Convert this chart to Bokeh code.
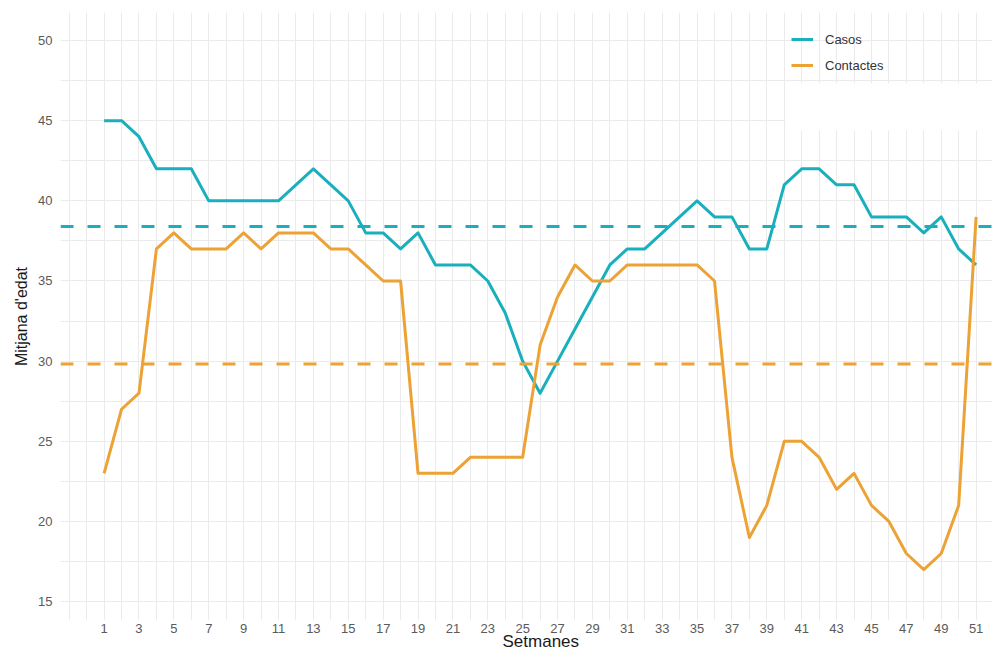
from bokeh.plotting import figure
from bokeh.models import Range1d, FixedTicker, Legend, LegendItem, Span, BoxAnnotation, Title
from bokeh.embed import file_html
from bokeh.resources import INLINE
import numpy as np

# ---- data ----
setmanes = list(range(1, 52))
casos = [45, 45, 44, 42, 42, 42, 40, 40, 40, 40, 40, 41, 42, 41, 40, 38, 38, 37, 38, 36,
         36, 36, 35, 33, 30, 28, 30, 32, 34, 36, 37, 37, 38, 39, 40, 39, 39, 37, 37, 41,
         42, 42, 41, 41, 39, 39, 39, 38, 39, 37, 36]
contactes = [23, 27, 28, 37, 38, 37, 37, 37, 38, 37, 38, 38, 38, 37, 37, 36, 35, 35, 23, 23,
             23, 24, 24, 24, 24, 31, 34, 36, 35, 35, 36, 36, 36, 36, 36, 35, 24, 19, 21, 25,
             25, 24, 22, 23, 21, 20, 18, 17, 18, 21, 39]
tick_setmanes = list(range(1, 52, 2))
minor_setmanes = [-1] + list(range(0, 54, 2))
tick_edat = [15, 20, 25, 30, 35, 40, 45, 50]
minor_edat = [12.5, 17.5, 22.5, 27.5, 32.5, 37.5, 42.5, 47.5, 52.5]
series_names = ["Casos", "Contactes"]
x_title = "Setmanes"
y_title = "Mitjana d'edat"

mitjana_casos = float(np.mean(casos))
mitjana_contactes = float(np.mean(contactes))

TEAL = "#19AFBD"
ORANGE = "#ECA235"
FONT = "Liberation Sans"
GRID = "#EBEBEB"

p = figure(width=992, height=650, output_backend="svg", toolbar_location=None,
           x_range=Range1d(-1.5, 51.94), y_range=Range1d(13.82, 51.75),
           min_border_left=60, min_border_right=0, min_border_top=12, min_border_bottom=30)
p.outline_line_color = None
p.background_fill_color = "white"
p.border_fill_color = "white"

# axes
for ax in (p.xaxis[0], p.yaxis[0]):
    ax.axis_line_color = None
    ax.major_tick_line_color = None
    ax.minor_tick_line_color = None
    ax.major_tick_out = 0
    ax.major_tick_in = 0
    ax.minor_tick_out = 0
    ax.minor_tick_in = 0
    ax.major_label_text_font = FONT
    ax.major_label_text_font_size = "13px"
    ax.major_label_text_color = "#5A5A5A"
    ax.axis_label_text_font = FONT
    ax.axis_label_text_font_size = "16px"
    ax.axis_label_text_font_style = "normal"
    ax.axis_label_text_color = "#1A1A1A"

p.xaxis.ticker = FixedTicker(ticks=tick_setmanes, minor_ticks=minor_setmanes)
p.yaxis.ticker = FixedTicker(ticks=tick_edat, minor_ticks=minor_edat)
p.yaxis.axis_label = y_title
p.xaxis.major_label_standoff = 3
p.yaxis.major_label_standoff = 8
p.yaxis.axis_label_standoff = 5

p.xgrid.ticker = FixedTicker(ticks=tick_setmanes, minor_ticks=minor_setmanes)
p.ygrid.ticker = FixedTicker(ticks=tick_edat, minor_ticks=minor_edat)
for g in (p.xgrid[0], p.ygrid[0]):
    g.grid_line_color = GRID
    g.grid_line_width = 1
    g.minor_grid_line_color = GRID
    g.minor_grid_line_width = 1

# white patch seen in the reference under the legend
p.add_layout(BoxAnnotation(left=40.07, right=60, top=47.32, bottom=44.39,
                           fill_color="white", fill_alpha=1, line_alpha=0, level="underlay"))

# mean lines
p.add_layout(Span(location=mitjana_casos, dimension="width", line_color=TEAL,
                  line_width=3, line_dash="13 14"))
p.add_layout(Span(location=mitjana_contactes, dimension="width", line_color=ORANGE,
                  line_width=3, line_dash="13 14"))

r1 = p.line(setmanes, casos, line_color=TEAL, line_width=3, line_join="round")
r2 = p.line(setmanes, contactes, line_color=ORANGE, line_width=3, line_join="round")

legend = Legend(items=[LegendItem(label=series_names[0], renderers=[r1]),
                       LegendItem(label=series_names[1], renderers=[r2])],
                location=(731, 545), padding=0, spacing=6, margin=0,
                glyph_width=22, glyph_height=20, label_height=20, label_standoff=12,
                background_fill_alpha=0, border_line_alpha=0,
                label_text_font=FONT, label_text_font_size="13px",
                label_text_color="#333333")
p.add_layout(legend, "center")

# x axis title, centred on the (uncropped) panel of the reference
p.add_layout(Title(text=x_title, align="left", offset=442, standoff=-9,
                   vertical_align="middle", text_font=FONT, text_font_size="17px",
                   text_font_style="normal", text_color="#1A1A1A"), "below")

open("out.html", "w").write(file_html(p, INLINE))
